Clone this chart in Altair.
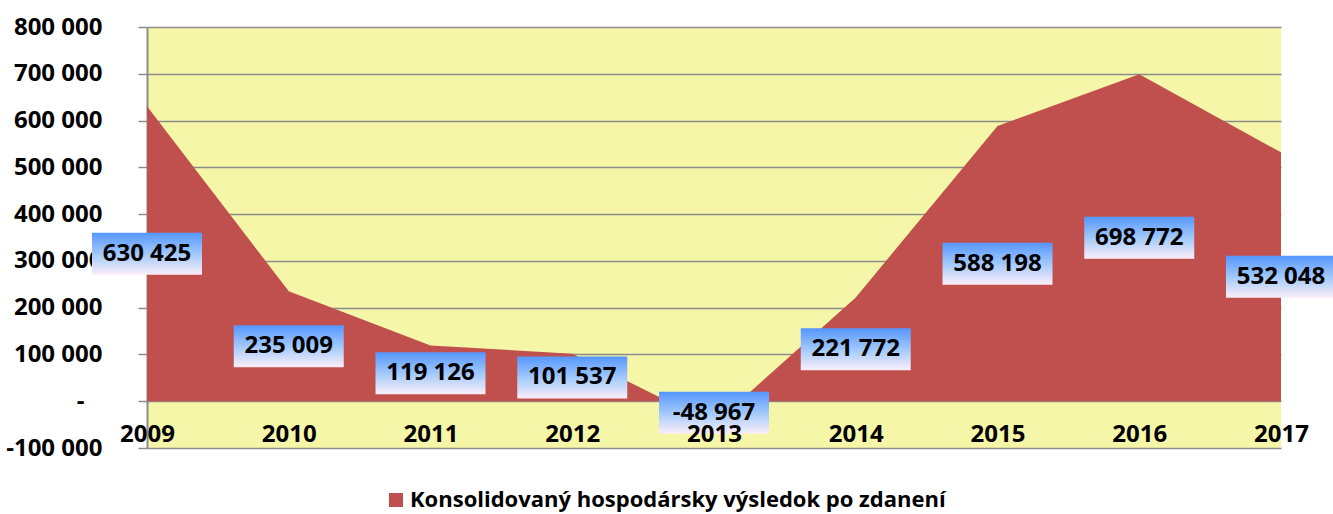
import altair as alt
import pandas as pd

years = ["2009", "2010", "2011", "2012", "2013", "2014", "2015", "2016", "2017"]
values = [630425, 235009, 119126, 101537, -48967, 221772, 588198, 698772, 532048]
series_name = "Konsolidovaný hospodársky výsledok po zdanení"
y_ticks = [-100000, 0, 100000, 200000, 300000, 400000, 500000, 600000, 700000, 800000]

FONT = "Open Sans"
GRID = "#8c8c8c"

df = pd.DataFrame({"year": years, "value": values, "series": series_name})
base = alt.Chart(df)

fmt = "replace(replace(format(datum.value, ',d'), ',', ' '), '\u2212', '-')"

x_axis = alt.Axis(
    title=None, orient="bottom", offset=-47, domain=False, ticks=False, grid=False,
    labelAngle=0, labelFont=FONT, labelFontSize=24, labelFontWeight="bold",
    labelColor="black", labelPadding=21, zindex=1,
)
y_axis = alt.Axis(
    title=None, values=y_ticks,
    labelExpr="datum.value == 0 ? '-\u2800' : " + fmt,
    grid=True, gridColor=GRID, gridWidth=1.5,
    domainColor=GRID, domainWidth=2, tickColor=GRID, tickSize=9, tickWidth=1.5,
    labelFont=FONT, labelFontSize=24, labelFontWeight="bold", labelColor="black",
    labelPadding=36,
)

xs = alt.Scale(type="point", padding=0)
ys = alt.Scale(domain=[-100000, 800000], nice=False, zero=False)

X = alt.X("year:O", scale=xs, axis=x_axis)

area = base.mark_area(opacity=1).encode(
    x=X,
    y=alt.Y("value:Q", scale=ys, axis=y_axis),
    y2=alt.datum(0),
    color=alt.Color(
        "series:N",
        scale=alt.Scale(range=["#C0504D"]),
        legend=alt.Legend(
            title=None, orient="none", legendX=238, legendY=462,
            symbolType="square", symbolSize=196, symbolStrokeWidth=0,
            labelFont=FONT, labelFontSize=22, labelFontWeight="bold",
            labelColor="black", labelLimit=1000, labelOffset=3, padding=0,
        ),
    ),
)

grad = alt.Gradient(
    gradient="linear",
    stops=[
        alt.GradientStop(color="#5596ff", offset=0),
        alt.GradientStop(color="#a9cdfb", offset=0.55),
        alt.GradientStop(color="#fbeef8", offset=1),
    ],
    x1=0, x2=0, y1=0, y2=1,
)

boxes = base.transform_calculate(mid="datum.value / 2").mark_rect(
    width=110, height=42, fill=grad
).encode(
    x=X,
    y=alt.Y("mid:Q", scale=ys, axis=y_axis),
)

labels = base.transform_calculate(
    mid="datum.value / 2", label=fmt
).mark_text(
    font=FONT, fontSize=24, fontWeight="bold", color="black", align="center", baseline="middle"
).encode(
    x=X,
    y=alt.Y("mid:Q", scale=ys, axis=y_axis),
    text="label:N",
)

chart = alt.layer(area, boxes, labels).properties(
    width=1134, height=421,
    autosize=alt.AutoSizeParams(type="none"),
    padding={"left": 147, "top": 27, "right": 52, "bottom": 66},
    background="white",
).configure_view(fill="#f6f6a8", stroke=None)

chart.save("out.html", embed_options={"renderer": "svg", "actions": False})
